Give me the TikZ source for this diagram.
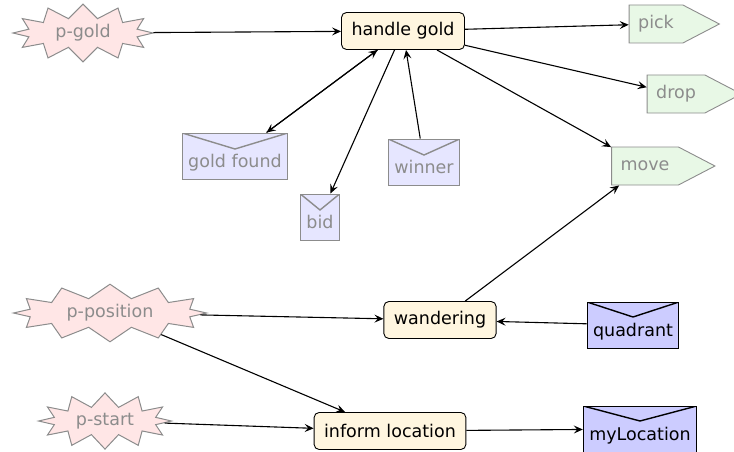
\documentclass[tikz,border=0pt]{standalone}
\usepackage{fontspec}
\setmainfont{DejaVu Sans}
\usepackage{xcolor}
\usetikzlibrary{shapes.symbols,arrows.meta}

\definecolor{perceptfill}{HTML}{FFE6E6}
\definecolor{actionfill}{HTML}{E8F8E6}
\definecolor{planfill}{HTML}{FFF6E0}
\definecolor{msgfill}{HTML}{E6E6FF}
\definecolor{msgdark}{HTML}{CCCCFF}
\definecolor{shapegray}{HTML}{8C8C8C}

\begin{document}
\begin{tikzpicture}[x=1pt, y=-1pt,
    every node/.style={font=\fontsize{17.5}{20}\selectfont},
    percept/.style={starburst, random starburst=0, starburst points=12,
      starburst point height=14pt, draw=shapegray, fill=perceptfill,
      text=shapegray, line width=1pt, inner ysep=2pt},
    plan/.style={draw, rounded corners=5pt, fill=planfill, line width=0.9pt,
      minimum height=37pt, inner xsep=10pt},
    action/.style={signal, signal to=east, signal pointer angle=55,
      draw=shapegray, fill=actionfill, text=shapegray, line width=0.9pt,
      minimum height=38pt, inner xsep=9pt},
    msg/.style={rectangle, draw=shapegray, fill=msgfill, text=shapegray,
      line width=1pt, inner xsep=6pt, inner ysep=7pt,
      text height=27pt, text depth=5pt,
      path picture={\draw[line width=1.4pt, draw=shapegray]
        (path picture bounding box.north west)
        -- ([yshift=-16pt]path picture bounding box.north)
        -- (path picture bounding box.north east);}},
    msgin/.style={msg, draw=black, fill=msgdark, text=black,
      path picture={\draw[line width=1.4pt]
        (path picture bounding box.north west)
        -- ([yshift=-15pt]path picture bounding box.north)
        -- (path picture bounding box.north east);}},
    edge/.style={-{Stealth[length=9pt, width=8pt, inset=3.5pt]}, line width=1.1pt}]
    \useasboundingbox (0,0) rectangle (734,452);

    % Percepts
    \node[percept, inner xsep=12pt] (pgold) at (83,33) {p-gold};
    \node[percept, inner xsep=15pt] (pposition) at (110,313) {p-position};
    \node[percept, inner xsep=8pt] (pstart) at (105,421) {p-start};

    % Plans
    \node[plan] (handle) at (403,31) {handle gold};
    \node[plan] (wander) at (440,320) {wandering};
    \node[plan] (inform) at (390,431) {inform location};

    % Actions
    \node[action] (pick) at (656,24) {pick};
    \node[action] (drop) at (676,94) {drop};
    \node[action] (move) at (645,166) {move};

    % Messages
    \node[msg] (gfound) at (235,156) {gold found};
    \node[msg] (bid) at (320,217) {bid};
    \node[msg] (winner) at (424,162) {winner};
    \node[msgin] (quadrant) at (633,325) {quadrant};
    \node[msgin] (myloc) at (640,429) {myLocation};

    % Arrows
    \draw[edge] (pgold) -- (handle);
    \draw[edge] (handle) -- (pick);
    \draw[edge] (handle) -- (drop);
    \draw[edge] (handle) -- (move);
    \draw[edge] (handle) -- (gfound);
    \draw[edge] (gfound) -- (handle);
    \draw[edge] (handle) -- (bid);
    \draw[edge] (winner) -- (handle);
    \draw[edge] (wander) -- (move);
    \draw[edge] (pposition) -- (wander);
    \draw[edge] (pposition) -- (inform);
    \draw[edge] (quadrant) -- (wander);
    \draw[edge] (pstart) -- (inform);
    \draw[edge] (inform) -- (myloc);
\end{tikzpicture}
\end{document}
